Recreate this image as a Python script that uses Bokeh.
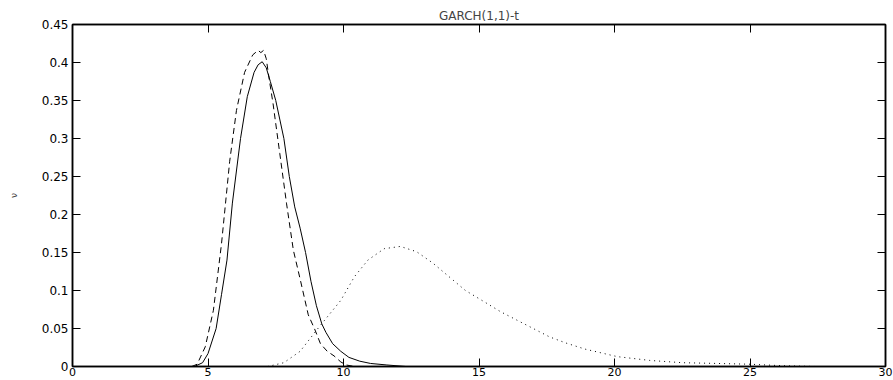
from bokeh.plotting import figure
from bokeh.models import Range1d, FixedTicker, LinearAxis
from bokeh.embed import file_html
from bokeh.resources import INLINE

# ---- data ----
solid_x = [4.5, 4.8, 5.0, 5.3, 5.5, 5.7, 5.9, 6.2, 6.45, 6.7, 6.85, 7.0, 7.15, 7.3, 7.5,
           7.8, 8.0, 8.2, 8.4, 8.6, 8.8, 9.0, 9.2, 9.35, 9.6, 9.9, 10.2, 10.6, 11.0, 11.6, 12.3]
solid_y = [0.0, 0.005, 0.017, 0.05, 0.095, 0.14, 0.215, 0.30, 0.355, 0.387, 0.397, 0.401, 0.393,
           0.375, 0.35, 0.30, 0.25, 0.21, 0.182, 0.15, 0.112, 0.08, 0.056, 0.045, 0.03, 0.02,
           0.012, 0.007, 0.004, 0.002, 0.0]

dashed_x = [4.4, 4.6, 4.9, 5.2, 5.5, 5.8, 6.05, 6.35, 6.65, 6.85, 6.95, 7.05, 7.15, 7.25, 7.4,
            7.65, 7.9, 8.15, 8.4, 8.7, 8.95, 9.15, 9.4, 9.65, 9.9, 10.1, 10.4]
dashed_y = [0.0, 0.003, 0.026, 0.074, 0.162, 0.27, 0.337, 0.387, 0.41, 0.416, 0.413, 0.416,
            0.405, 0.38, 0.346, 0.28, 0.214, 0.153, 0.115, 0.068, 0.048, 0.03, 0.02, 0.014,
            0.006, 0.002, 0.0]

dotted_x = [7.2, 7.8, 8.4, 9.1, 9.9, 10.4, 10.9, 11.5, 12.1, 12.7, 13.3, 13.9, 14.5, 15.2,
            15.8, 16.4, 17.0, 17.6, 18.2, 18.9, 19.5, 20.1, 21.3, 22.5, 23.8, 25.0, 26.2, 27.4]
dotted_y = [0.0, 0.005, 0.02, 0.052, 0.087, 0.118, 0.14, 0.155, 0.158, 0.151, 0.136, 0.118,
            0.1, 0.085, 0.072, 0.061, 0.05, 0.039, 0.031, 0.023, 0.018, 0.013, 0.008, 0.005,
            0.004, 0.003, 0.001, 0.0]

x_ticks = [0, 5, 10, 15, 20, 25, 30]
x_tick_labels = ["0", "5", "10", "15", "20", "25", "30"]
y_ticks = [0, 0.05, 0.1, 0.15, 0.2, 0.25, 0.3, 0.35, 0.4, 0.45]
y_tick_labels = ["0", "0.05", "0.1", "0.15", "0.2", "0.25", "0.3", "0.35", "0.4", "0.45"]

title_text = "GARCH(1,1)-t"
y_label = "\u03bd"

FONT = "DejaVu Sans"

p = figure(width=893, height=380, x_range=Range1d(0, 30), y_range=Range1d(0, 0.45),
           output_backend="svg", toolbar_location=None, title=title_text,
           min_border_left=72, min_border_right=8, min_border_top=24, min_border_bottom=14)

p.title.align = "center"
p.title.text_font = FONT
p.title.text_font_size = "12px"
p.title.text_font_style = "normal"
p.title.standoff = 3
p.title.offset = 0

p.xgrid.visible = False
p.ygrid.visible = False
p.outline_line_color = "black"
p.outline_line_width = 1.5
p.background_fill_color = "white"
p.border_fill_color = "white"

def style_axis(ax, ticks, labels, show_labels=True, size="12px"):
    ax.ticker = FixedTicker(ticks=ticks)
    ax.major_label_overrides = {t: l for t, l in zip(ticks, labels)}
    ax.major_tick_in = 8
    ax.major_tick_out = 0
    ax.minor_tick_in = 0
    ax.minor_tick_out = 0
    ax.axis_line_color = "black"
    ax.axis_line_width = 1.5
    ax.major_tick_line_color = "black"
    ax.major_tick_line_width = 1
    ax.major_label_text_font = FONT
    if show_labels:
        ax.major_label_text_font_size = size
        ax.major_label_text_color = "black"
    else:
        ax.major_label_text_font_size = "1px"
        ax.major_label_text_color = None
        ax.major_label_standoff = 0

style_axis(p.xaxis[0], x_ticks, x_tick_labels, size="11px")
p.xaxis[0].major_label_standoff = 1
style_axis(p.yaxis[0], y_ticks, y_tick_labels, size="12px")
p.yaxis[0].major_label_standoff = 4
p.yaxis[0].axis_label = y_label
p.yaxis[0].axis_label_text_font = FONT
p.yaxis[0].axis_label_text_font_size = "9px"
p.yaxis[0].axis_label_text_font_style = "normal"
p.yaxis[0].axis_label_standoff = 20

top_axis = LinearAxis()
style_axis(top_axis, x_ticks, x_tick_labels, show_labels=False)
p.add_layout(top_axis, "above")
right_axis = LinearAxis()
style_axis(right_axis, y_ticks, y_tick_labels, show_labels=False)
p.add_layout(right_axis, "right")

p.line(solid_x, solid_y, line_color="black", line_width=1)
p.line(dashed_x, dashed_y, line_color="black", line_width=1, line_dash="6 4")
p.line(dotted_x, dotted_y, line_color="black", line_width=1, line_dash="1 4")

open("out.html", "w").write(file_html(p, INLINE))
